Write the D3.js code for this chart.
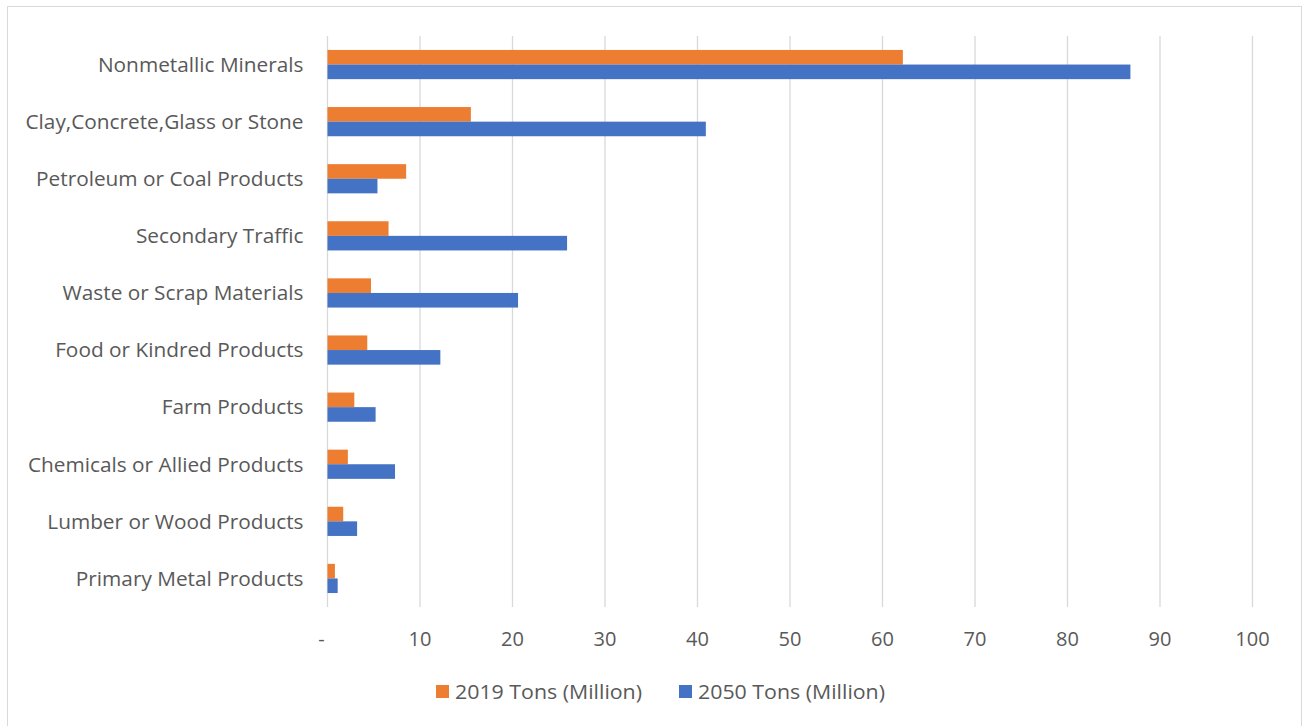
<!DOCTYPE html>
<html>
<head>
<meta charset="utf-8">
<script src="https://cdn.jsdelivr.net/npm/d3@7"></script>
<style>
  body { margin: 0; background: #fff; }
  text { font-family: "Open Sans", "Noto Sans", sans-serif; fill: #595959; }
</style>
</head>
<body>
<div id="chart"></div>
<script>
// data
const categories = [
  "Nonmetallic Minerals",
  "Clay,Concrete,Glass or Stone",
  "Petroleum or Coal Products",
  "Secondary Traffic",
  "Waste or Scrap Materials",
  "Food or Kindred Products",
  "Farm Products",
  "Chemicals or Allied Products",
  "Lumber or Wood Products",
  "Primary Metal Products"
];
const tons2019 = [62.2, 15.5, 8.5, 6.6, 4.7, 4.3, 2.9, 2.2, 1.7, 0.8];
const tons2050 = [86.8, 40.9, 5.4, 25.9, 20.6, 12.2, 5.2, 7.3, 3.2, 1.1];
const seriesNames = ["2019 Tons (Million)", "2050 Tons (Million)"];
const xTicks = [0, 10, 20, 30, 40, 50, 60, 70, 80, 90, 100];

const WIDTH = 1304, HEIGHT = 726;
const MARGIN = { top: 36, right: 52, bottom: 119, left: 327.5 };
const plotW = 1252.5 - MARGIN.left;
const plotH = 607 - MARGIN.top;
const colors = ["#ED7D31", "#4472C4"];

const svg = d3.select("#chart").append("svg")
  .attr("width", WIDTH)
  .attr("height", HEIGHT);

// outer border
svg.append("rect")
  .attr("x", 7.5).attr("y", 6.5)
  .attr("width", 1294).attr("height", 730)
  .attr("fill", "none")
  .attr("stroke", "#d9d9d9");

const g = svg.append("g")
  .attr("transform", `translate(${MARGIN.left},${MARGIN.top})`);

const x = d3.scaleLinear().domain([0, 100]).range([0, plotW]);
const y = d3.scaleBand().domain(categories).range([0, plotH]);
const bandH = y.bandwidth();
const barH = 14.6;

// gridlines
g.append("g")
  .selectAll("line")
  .data(xTicks)
  .join("line")
  .attr("x1", d => x(d)).attr("x2", d => x(d))
  .attr("y1", 0).attr("y2", plotH)
  .attr("stroke", "#d9d9d9")
  .attr("stroke-width", 1.3);

// x tick labels
g.append("g")
  .selectAll("text")
  .data(xTicks)
  .join("text")
  .attr("x", d => d === 0 ? x(d) - 6 : x(d))
  .attr("y", plotH + 39)
  .attr("text-anchor", "middle")
  .attr("font-size", "20px")
  .text(d => d === 0 ? "-" : d);

// category labels
g.append("g")
  .selectAll("text")
  .data(categories)
  .join("text")
  .attr("x", -24)
  .attr("y", d => y(d) + bandH / 2)
  .attr("dy", "0.35em")
  .attr("text-anchor", "end")
  .attr("font-size", "20.8px")
  .text(d => d);

// bars
const series = [tons2019, tons2050];
series.forEach((vals, si) => {
  g.append("g")
    .selectAll("rect")
    .data(categories)
    .join("rect")
    .attr("x", x(0))
    .attr("y", (d) => y(d) + bandH / 2 - barH + si * barH)
    .attr("width", (d, i) => x(vals[i]) - x(0))
    .attr("height", barH)
    .attr("fill", colors[si]);
});

// legend
const legendX = [436, 679];
const legend = svg.append("g");
seriesNames.forEach((name, i) => {
  legend.append("rect")
    .attr("x", legendX[i]).attr("y", 685)
    .attr("width", 13).attr("height", 13)
    .attr("fill", colors[i]);
  legend.append("text")
    .attr("x", legendX[i] + 19).attr("y", 692)
    .attr("dy", "0.35em")
    .attr("font-size", "20px")
    .attr("textLength", 187)
    .attr("lengthAdjust", "spacingAndGlyphs")
    .text(name);
});
</script>
</body>
</html>
